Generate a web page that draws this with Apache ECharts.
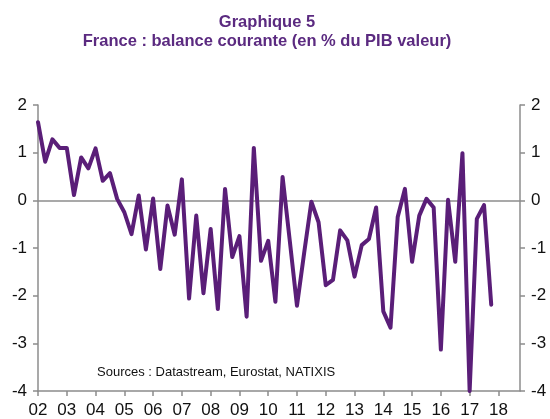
<!DOCTYPE html>
<html lang="fr">
    <head>
        <meta http-equiv="Content-Type" content="text/html; charset=utf-8" />
        <title>Graphique 5</title>
        <style>
            * {
                margin: 0;
                padding: 0;
                box-sizing: border-box;
            }
            html,
            body {
                width: 100%;
                height: 100%;
                background: #fff;
            }
            #chart {
                width: 550px;
                height: 419px;
            }
        </style>
    </head>
    <body>
        <div id="chart"></div>
        <script src="https://cdn.jsdelivr.net/npm/echarts@6/dist/echarts.min.js"></script>
        <script>
            // années affichées sur l'axe (2002 -> 2018), 4 trimestres chacune
            const years = ['02', '03', '04', '05', '06', '07', '08', '09', '10', '11', '12', '13', '14', '15', '16', '17', '18']
            // balance courante trimestrielle, 2002T1 -> 2017T4 (en % du PIB)
            const balance = [
                1.64, 0.81, 1.28, 1.1, 1.1, 0.11, 0.9, 0.67,
                1.09, 0.41, 0.57, 0.03, -0.25, -0.71, 0.1, -1.03,
                0.04, -1.44, -0.11, -0.72, 0.44, -2.06, -0.32, -1.95,
                -0.6, -2.28, 0.24, -1.19, -0.75, -2.44, 1.1, -1.27,
                -0.85, -2.13, 0.49, -0.85, -2.21, -1.1, -0.03, -0.46,
                -1.78, -1.67, -0.63, -0.84, -1.6, -0.94, -0.81, -0.15,
                -2.33, -2.67, -0.35, 0.24, -1.29, -0.32, 0.03, -0.15,
                -3.13, 0.01, -1.29, 0.99, -4.0, -0.39, -0.1, -2.19,
            ]
            const yTicks = [2, 1, 0, -1, -2, -3, -4]

            const quarters = []
            years.forEach((y) => {
                for (let q = 1; q <= 4; q++) quarters.push(y + 'T' + q)
            })

            const purple = '#5a1e78'
            const grey = '#8c8c8c'
            const font = 'Liberation Sans, Arial, sans-serif'

            const yAxisBase = {
                type: 'value',
                min: yTicks[yTicks.length - 1],
                max: yTicks[0],
                interval: 1,
                splitLine: { show: false },
                axisLine: { show: true, lineStyle: { color: grey, width: 1.5 } },
                axisTick: { show: true, length: 5, lineStyle: { color: grey, width: 1.5 } },
                axisLabel: { color: '#111', fontSize: 17, fontFamily: font, margin: 11 },
            }

            const chart = echarts.init(document.getElementById('chart'))
            chart.setOption({
                animation: false,
                title: {
                    text: 'Graphique 5\nFrance : balance courante (en % du PIB valeur)',
                    left: 262,
                    textAlign: 'center',
                    top: 8,
                    textStyle: {
                        color: '#5b2a80',
                        fontSize: 16.5,
                        fontWeight: 'bold',
                        fontFamily: font,
                        lineHeight: 19,
                    },
                },
                grid: { left: 38, right: 30, top: 105, bottom: 26 },
                xAxis: {
                    type: 'category',
                    data: quarters,
                    boundaryGap: false,
                    axisLine: { onZero: false, lineStyle: { color: grey, width: 1.5 } },
                    axisTick: { interval: 3, length: 5, lineStyle: { color: grey, width: 1.5 } },
                    axisLabel: {
                        interval: 3,
                        color: '#111',
                        fontSize: 17,
                        fontFamily: font,
                        margin: 11,
                        formatter: (v) => v.slice(0, 2),
                    },
                },
                yAxis: [
                    Object.assign({}, yAxisBase, { position: 'left' }),
                    Object.assign({}, yAxisBase, { position: 'right' }),
                ],
                graphic: [
                    {
                        type: 'text',
                        left: 97,
                        top: 366,
                        style: {
                            text: 'Sources : Datastream, Eurostat, NATIXIS',
                            fill: '#111',
                            fontSize: 13,
                            fontFamily: font,
                        },
                    },
                ],
                series: [
                    {
                        type: 'line',
                        data: balance,
                        symbol: 'none',
                        lineStyle: { color: purple, width: 4, join: 'round', cap: 'round' },
                        markLine: {
                            silent: true,
                            symbol: 'none',
                            label: { show: false },
                            lineStyle: { color: grey, type: 'solid', width: 1.5 },
                            data: [{ yAxis: 0 }],
                            z: 1,
                        },
                        z: 3,
                    },
                ],
            })
        </script>
    </body>
</html>
